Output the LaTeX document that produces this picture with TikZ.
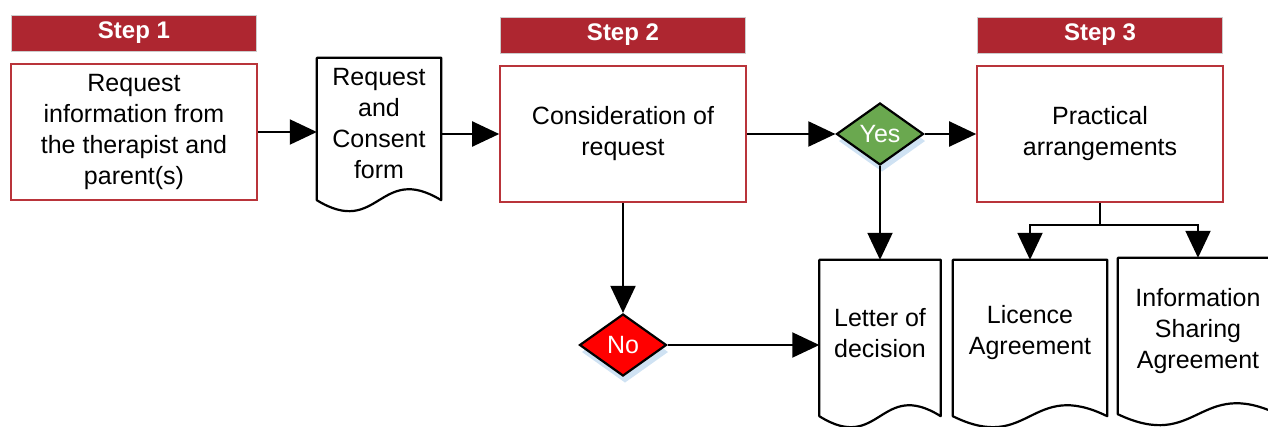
\documentclass[tikz,border=0pt]{standalone}
\usepackage{fontspec}
\setmainfont{Liberation Sans}
\usepackage{xcolor}
\usepackage{tikz}
\usetikzlibrary{shapes.geometric,arrows.meta,shadows,positioning,calc}

\definecolor{stepred}{RGB}{174,38,48}
\definecolor{boxred}{RGB}{185,52,58}
\definecolor{yesgreen}{RGB}{106,168,79}
\definecolor{shadowblue}{RGB}{207,226,243}

% outline of a document shape round a doc node
\newcommand{\docoutline}[1]{%
  \draw[docline] (#1.north west) -- (#1.north east) -- ($(#1.south east)+(0,10)$)
    .. controls ($(#1.south)+(0,-28)$) and ($(#1.south)+(0,48)$) .. ($(#1.south west)+(0,10)$)
    -- cycle;}

\begin{document}
\begin{tikzpicture}[x=1pt,y=-1pt,
  every node/.style={font=\fontsize{25}{31}\selectfont},
  stepbar/.style={rectangle,draw=black!20,fill=stepred,text=white,
    font=\bfseries\fontsize{24}{28}\selectfont,minimum width=245pt,minimum height=36pt,inner sep=0pt},
  box/.style={rectangle,draw=boxred,line width=1.6pt,align=center,
    minimum width=246pt,minimum height=136pt,inner sep=0pt},
  doc/.style={rectangle,align=center,inner sep=0pt},
  docline/.style={draw=black,line width=2.2pt,line join=round},
  decision/.style={diamond,draw=black,line width=2.2pt,text=white,
    minimum width=87pt,minimum height=62pt,inner sep=0pt,
    drop shadow={shadow xshift=2pt,shadow yshift=-7pt,fill=shadowblue,opacity=1}},
  arr/.style={line width=2pt,-{Triangle[length=27pt,width=25pt]}},
]
\useasboundingbox (0,0) rectangle (1268,426);
\clip (0,0) rectangle (1268,426);

\node[box] (request) at (134,132) {Request\\information from\\the therapist and\\parent(s)};
\node[stepbar,above=12pt of request] (step1) {Step 1};
\node[doc,minimum width=124pt,minimum height=132pt] (form) at (379,124) {Request\\and\\Consent\\form};
\docoutline{form}
\node[box] (consider) at (623,134) {Consideration of\\request};
\node[stepbar,above=12pt of consider] (step2) {Step 2};
\node[decision,fill=yesgreen] (yes) at (880,134) {Yes};
\node[box] (practical) at (1100,134) {Practical\\arrangements};
\node[stepbar,above=12pt of practical] (step3) {Step 3};
\node[decision,fill=red] (no) at (623,345) {No};
\node[doc,minimum width=121pt,minimum height=146pt] (letter) at (880,333) {Letter of\\decision};
\docoutline{letter}
\node[doc,minimum width=154pt,minimum height=146pt] (licence) at (1030,333) {Licence\\Agreement};
\docoutline{licence}
\node[doc,minimum width=160pt,minimum height=146pt] (sharing) at (1198,331) {Information\\Sharing\\Agreement};
\docoutline{sharing}

\draw[arr] (request.east) -- (request.east -| form.west);
\draw[arr] (form.east |- consider) -- (consider.west);
\draw[arr] (consider) -- (yes);
\draw[arr] (yes) -- (practical);
\draw[arr] (yes.south) -- (yes.south |- letter.north);
\draw[arr] (consider) -- (no);
\draw[arr] (no) -- (no -| letter.west);
\coordinate (split) at ($(practical.south)+(0,22)$);
\draw[line width=2pt] (practical.south) -- (split);
\draw[arr] (split) -| (licence.north);
\draw[arr] (split) -| (sharing.north);
\end{tikzpicture}
\end{document}
